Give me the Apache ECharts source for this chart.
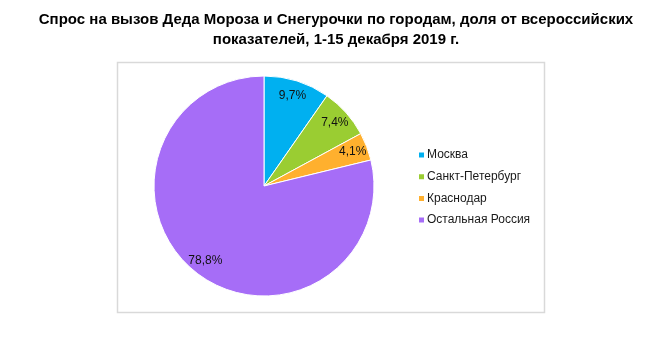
<!DOCTYPE html>
<html>
<head>
<meta charset="utf-8">
<script src="https://cdn.jsdelivr.net/npm/echarts@6/dist/echarts.min.js"></script>
<style>
  html, body { margin: 0; padding: 0; background: #fff; }
  #chart { width: 647px; height: 353px; }
</style>
</head>
<body>
<div id="chart"></div>
<script>
// данные
const cities = ['Москва', 'Санкт-Петербург', 'Краснодар', 'Остальная Россия'];
const shares = [9.7, 7.4, 4.1, 78.8];
const colors = ['#00b0f0', '#9acd32', '#ffb02e', '#a66df7'];

const chart = echarts.init(document.getElementById('chart'));

const pieData = cities.map((name, i) => ({
  name: name,
  value: shares[i],
  itemStyle: { color: colors[i] }
}));

const fmt = p => String(p.value).replace('.', ',') + '%';

chart.setOption({
  animation: false,
  title: {
    text: 'Спрос на вызов Деда Мороза и Снегурочки по городам, доля от всероссийских\nпоказателей, 1-15 декабря 2019 г.',
    left: 331,
    top: 5,
    textAlign: 'center',
    textStyle: {
      fontFamily: 'Liberation Sans',
      fontSize: 15,
      fontWeight: 'bold',
      color: '#000',
      lineHeight: 20
    }
  },
  graphic: [{
    type: 'rect',
    shape: { x: 117.5, y: 62.5, width: 427, height: 250 },
    style: { fill: 'none', stroke: '#d9d9d9', lineWidth: 1.5 },
    z: -1
  }],
  legend: {
    orient: 'vertical',
    left: 412,
    top: 143,
    icon: 'rect',
    itemWidth: 7,
    itemHeight: 7,
    itemGap: 7.7,
    data: cities,
    textStyle: {
      fontFamily: 'Liberation Sans',
      fontSize: 12,
      color: '#1a1a1a',
      lineHeight: 14,
      padding: [0, 0, 0, -3]
    }
  },
  series: [
    {
      type: 'pie',
      center: [264, 186],
      radius: [0, 110],
      startAngle: 90,
      clockwise: true,
      label: { show: false },
      labelLine: { show: false },
      itemStyle: { borderColor: '#fff', borderWidth: 1 },
      emphasis: { disabled: true },
      data: pieData
    },
    {
      type: 'pie',
      center: [264, 186],
      radius: [74, 110],
      startAngle: 90,
      clockwise: true,
      silent: true,
      itemStyle: { color: 'rgba(0,0,0,0)' },
      label: {
        show: true,
        position: 'inside',
        formatter: fmt,
        fontFamily: 'Liberation Sans',
        fontSize: 12,
        color: '#111'
      },
      labelLine: { show: false },
      data: cities.map((name, i) => ({ name: name, value: shares[i] }))
    }
  ]
});
</script>
</body>
</html>
